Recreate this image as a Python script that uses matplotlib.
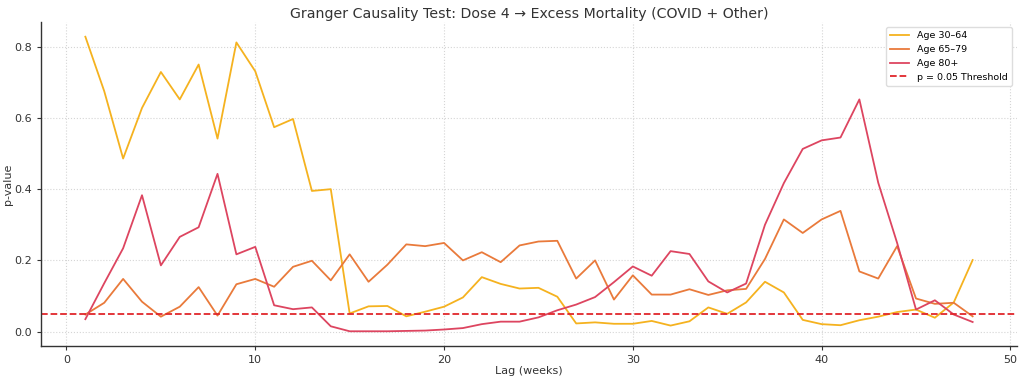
import matplotlib
matplotlib.use("Agg")
import matplotlib.pyplot as plt

lags = list(range(1, 49))

age_30_64 = [0.828, 0.675, 0.486, 0.628, 0.729, 0.652, 0.750, 0.542, 0.812, 0.731,
             0.574, 0.597, 0.395, 0.400, 0.051, 0.071, 0.072, 0.043, 0.056, 0.070,
             0.096, 0.153, 0.134, 0.121, 0.123, 0.098, 0.023, 0.026, 0.022, 0.022,
             0.030, 0.017, 0.029, 0.068, 0.050, 0.082, 0.140, 0.110, 0.033, 0.021,
             0.018, 0.032, 0.042, 0.055, 0.062, 0.039, 0.082, 0.201]

age_65_79 = [0.048, 0.081, 0.148, 0.084, 0.042, 0.070, 0.125, 0.045, 0.133, 0.148,
             0.126, 0.182, 0.199, 0.144, 0.217, 0.140, 0.188, 0.245, 0.240, 0.249,
             0.200, 0.223, 0.195, 0.242, 0.253, 0.255, 0.149, 0.200, 0.090, 0.158,
             0.104, 0.104, 0.119, 0.103, 0.116, 0.120, 0.204, 0.315, 0.277, 0.315,
             0.339, 0.169, 0.149, 0.240, 0.093, 0.078, 0.081, 0.043]

age_80_plus = [0.035, 0.136, 0.234, 0.383, 0.186, 0.266, 0.293, 0.443, 0.217, 0.238,
               0.074, 0.063, 0.068, 0.015, 0.001, 0.001, 0.001, 0.002, 0.003, 0.006,
               0.010, 0.021, 0.028, 0.028, 0.040, 0.060, 0.076, 0.097, 0.139, 0.183,
               0.157, 0.226, 0.218, 0.141, 0.110, 0.135, 0.300, 0.417, 0.513, 0.537,
               0.545, 0.652, 0.418, 0.249, 0.062, 0.088, 0.048, 0.027]

threshold = 0.05

series_labels = ["Age 30\u201364", "Age 65\u201379", "Age 80+"]
colors = ["#f5b21f", "#e97a3b", "#dd4560"]

fig = plt.figure(figsize=(10.24, 3.81), dpi=100)
ax = fig.add_axes([41 / 1024, 35 / 381, (1017 - 41) / 1024, (346 - 22) / 381])

for vals, lab, c in zip([age_30_64, age_65_79, age_80_plus], series_labels, colors):
    ax.plot(lags, vals, color=c, lw=1.3, label=lab)

ax.axhline(threshold, color="#e0262b", lw=1.3, ls="--", label="p = 0.05 Threshold")

ax.set_title("Granger Causality Test: Dose 4 \u2192 Excess Mortality (COVID + Other)",
             fontsize=10.2, color="#333333", pad=3)
ax.set_xlabel("Lag (weeks)", fontsize=8, color="#333333", labelpad=1)
ax.set_ylabel("p-value", fontsize=8, color="#333333", labelpad=1)

ax.grid(True, color="#d5d5d5", ls=":", lw=0.8)
ax.set_axisbelow(True)
for s in ["top", "right"]:
    ax.spines[s].set_visible(False)
for s in ["left", "bottom"]:
    ax.spines[s].set_color("#333333")
    ax.spines[s].set_linewidth(1.0)
ax.tick_params(labelsize=8, colors="#333333", length=3)

ax.legend(loc="upper right", fontsize=6.8, frameon=True, framealpha=1.0,
          edgecolor="#dddddd", handlelength=2.0, borderpad=0.5)

fig.savefig("out.png", dpi=100)
